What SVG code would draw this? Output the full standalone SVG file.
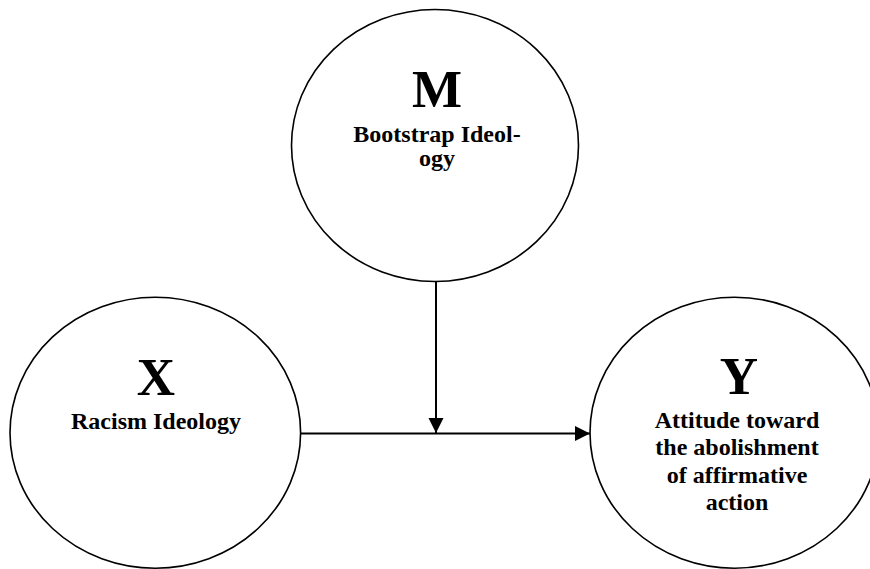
<svg xmlns="http://www.w3.org/2000/svg" width="870" height="569" viewBox="0 0 870 569">
  <style>
    .node { fill: #ffffff; stroke: #000000; stroke-width: 1.6; }
    .big { font-family: "Liberation Serif", "Times New Roman", serif; font-weight: bold; font-size: 53px; fill: #000; text-anchor: middle; }
    .lbl { font-family: "Liberation Serif", "Times New Roman", serif; font-weight: bold; font-size: 24px; fill: #000; text-anchor: middle; }
    .edge { stroke: #000000; stroke-width: 2; fill: none; }
  </style>
  <defs>
    <marker id="arrow" markerUnits="userSpaceOnUse" markerWidth="16" markerHeight="16" viewBox="0 0 16 16" refX="15" refY="8" orient="auto">
      <path d="M0,0.5 L15,8 L0,15.5 Z" fill="#000000"/>
    </marker>
  </defs>
  <rect width="870" height="569" fill="#ffffff"/>
  <g id="node-M">
    <ellipse class="node" cx="435" cy="145.5" rx="143.5" ry="136"/>
    <text class="big" x="437" y="107">M</text>
    <text class="lbl" x="437" y="141.5">Bootstrap Ideol-</text>
    <text class="lbl" x="437" y="166">ogy</text>
  </g>
  <g id="node-X">
    <ellipse class="node" cx="155.3" cy="432.7" rx="145.3" ry="135.5"/>
    <text class="big" x="156" y="395">X</text>
    <text class="lbl" x="156" y="429">Racism Ideology</text>
  </g>
  <g id="node-Y">
    <ellipse class="node" cx="734.5" cy="432.7" rx="144.5" ry="135.5"/>
    <text class="big" x="739" y="394">Y</text>
    <text class="lbl" x="737" y="428">Attitude toward</text>
    <text class="lbl" x="737" y="455">the abolishment</text>
    <text class="lbl" x="737" y="483">of affirmative</text>
    <text class="lbl" x="737" y="510">action</text>
  </g>
  <g id="connectors">
    <line class="edge" x1="300.7" y1="433.5" x2="590" y2="433.5" marker-end="url(#arrow)"/>
    <line class="edge" x1="436" y1="281.5" x2="436" y2="433" marker-end="url(#arrow)"/>
  </g>
</svg>
